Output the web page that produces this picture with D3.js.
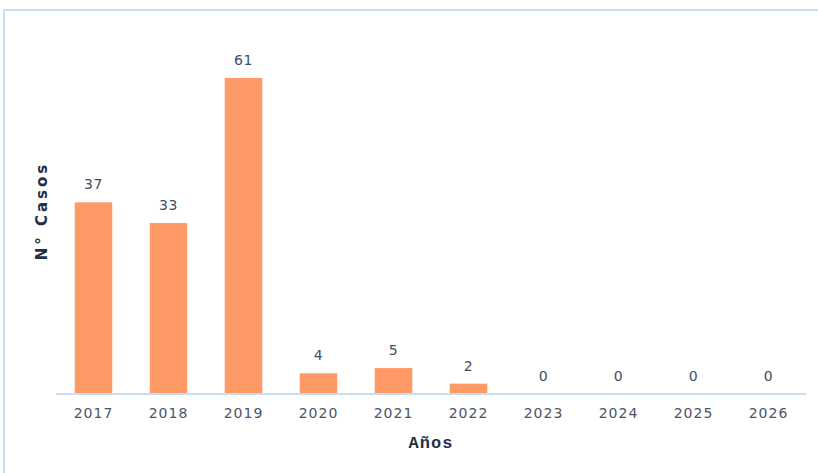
<!DOCTYPE html>
<html>
<head>
<meta charset="utf-8">
<script src="https://cdn.jsdelivr.net/npm/d3@7"></script>
<style>
  html, body { margin: 0; padding: 0; background: #fff; }
  svg { display: block; }
</style>
</head>
<body>
<svg id="chart" width="818" height="473"></svg>
<script>
const years = ["2017","2018","2019","2020","2021","2022","2023","2024","2025","2026"];
const cases = [37, 33, 61, 4, 5, 2, 0, 0, 0, 0];
const xTitle = "Años";
const yTitle = "N° Casos";

const svg = d3.select("#chart");
const W = 818, H = 473;

// outer border
svg.append("rect")
  .attr("x", 4).attr("y", 10)
  .attr("width", W + 10).attr("height", H + 10)
  .attr("fill", "none")
  .attr("stroke", "#c9ddf0")
  .attr("stroke-width", 2);

const plotLeft = 56, plotRight = 806, plotBase = 394, plotTop = 78;

const x = d3.scaleBand().domain(years).range([plotLeft, plotRight]).paddingInner(0.5).paddingOuter(0.25);
const y = d3.scaleLinear().domain([0, 61]).range([plotBase, plotTop]);

const rows = years.map((d, i) => ({ year: d, v: cases[i] }));

// bars
svg.append("g").selectAll("rect")
  .data(rows)
  .join("rect")
  .attr("x", d => x(d.year))
  .attr("y", d => y(d.v))
  .attr("width", x.bandwidth())
  .attr("height", d => plotBase - y(d.v))
  .attr("fill", "#ff9966");

// value labels
svg.append("g").selectAll("text")
  .data(rows)
  .join("text")
  .attr("x", d => x(d.year) + x.bandwidth() / 2)
  .attr("y", d => y(d.v) - 13)
  .attr("text-anchor", "middle")
  .attr("font-family", "DejaVu Sans, Verdana, sans-serif")
  .attr("font-size", 14)
  .attr("letter-spacing", "0.5px")
  .attr("fill", "#3f4d63")
  .text(d => d.v);

// x axis
const xAxis = d3.axisBottom(x).tickSize(0).tickPadding(14);
const gx = svg.append("g").attr("transform", `translate(0,${plotBase})`).call(xAxis);
gx.select(".domain").attr("stroke", "#c9ddf0").attr("stroke-width", 2)
  .attr("d", `M${plotLeft},0H${plotRight}`);
gx.selectAll("text")
  .attr("font-family", "DejaVu Sans, Verdana, sans-serif")
  .attr("font-size", 14)
  .attr("letter-spacing", "1px")
  .attr("fill", "#4a5568");

// axis titles
svg.append("text")
  .style("font-family", "\"Liberation Mono\", \"DejaVu Sans Mono\", monospace")
  .style("font-weight", "bold")
  .style("font-size", "17px")
  .attr("x", 431).attr("y", 448)
  .attr("text-anchor", "middle")
  .attr("letter-spacing", "1px")
  .attr("fill", "#1f3047")
  .text(xTitle);

svg.append("text")
  .style("font-family", "\"DejaVu Sans\", sans-serif")
  .style("font-weight", "bold")
  .style("font-size", "15px")
  .attr("transform", "translate(47,211) rotate(-90)")
  .attr("text-anchor", "middle")
  .attr("letter-spacing", "3px")
  .attr("fill", "#1f3047")
  .text(yTitle);
</script>
</body>
</html>
